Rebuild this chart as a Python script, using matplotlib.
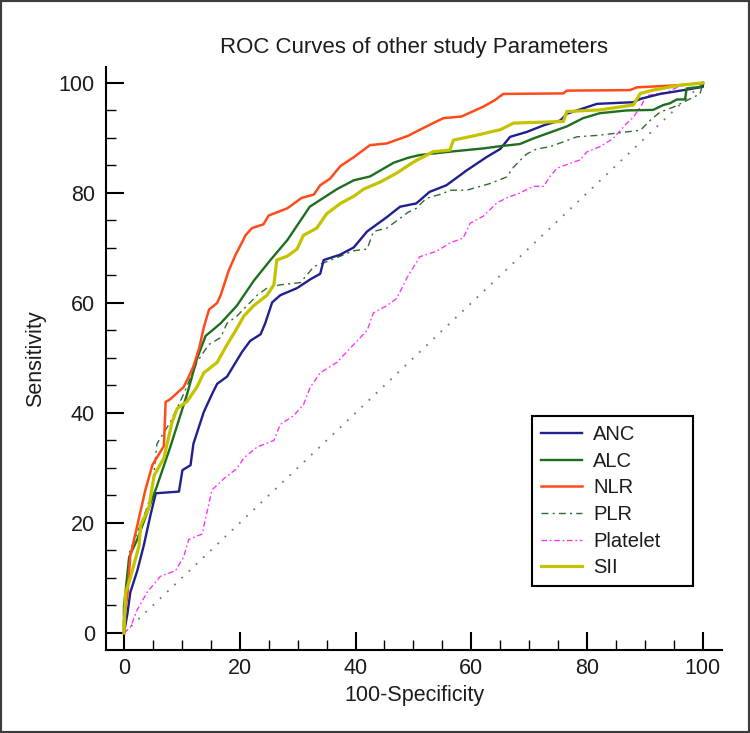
"""
ROC curves of other study parameters (ANC, ALC, NLR, PLR, Platelet, SII).

Output:
    out.png
"""

import matplotlib
matplotlib.use("Agg")
import matplotlib.pyplot as plt
from matplotlib.lines import Line2D
from matplotlib.patches import Rectangle
from matplotlib.ticker import MultipleLocator

# ---------------------------------------------------------------------------
# Data (100-Specificity vs Sensitivity, %)
# ---------------------------------------------------------------------------
anc_x = [0, 0.6, 1.1, 2.3, 3.4, 4.6, 5.5, 9.5, 10.1, 11.5, 12.0, 12.9, 13.8, 15.2,
         16.1, 17.8, 19.3, 20.4, 21.8, 23.6, 24.4, 25.6, 27.0, 29.9, 32.2, 33.9,
         34.5, 37.4, 39.7, 42.0, 45.4, 47.7, 50.5, 52.8, 55.7, 59.2, 62.6, 65.0,
         66.7, 69.6, 72.5, 75.4, 76.5, 81.7, 88.0, 89.2, 92.6, 96.7, 100, 100]
anc_y = [0, 3.5, 7.4, 11.3, 15.8, 21.5, 25.4, 25.7, 29.6, 30.5, 34.4, 37.3, 40.2,
         43.4, 45.3, 46.6, 49.2, 51.1, 53.1, 54.3, 56.3, 60.1, 61.4, 62.7, 64.3,
         65.3, 67.8, 68.8, 70.1, 73.0, 75.6, 77.5, 78.1, 80.2, 81.4, 84.1, 86.5,
         88.0, 90.2, 91.1, 92.3, 93.2, 94.4, 96.2, 96.5, 97.1, 98.0, 98.7, 99.3, 100]

alc_x = [0, 0, 0.9, 2.3, 3.7, 5.7, 8.0, 10.9, 12.6, 14.1, 16.7, 19.5, 22.4, 25.3,
         28.2, 32.1, 36.8, 39.7, 42.5, 46.6, 49.1, 51.1, 56.3, 62.1, 65.0, 68.4,
         70.7, 73.6, 76.5, 79.3, 82.2, 86.8, 91.4, 93.2, 94.3, 95.5, 96.9, 97.2,
         99.7, 100]
alc_y = [0, 4.8, 13.8, 17.0, 21.0, 26.7, 33.8, 43.4, 49.8, 54.0, 56.3, 59.5, 64.0,
         67.8, 71.4, 77.5, 80.7, 82.3, 83.0, 85.5, 86.4, 86.9, 87.5, 88.1, 88.5,
         88.9, 89.9, 91.0, 92.1, 93.6, 94.5, 95.0, 95.1, 96.0, 96.3, 97.0, 97.0,
         99.0, 99.3, 100]

nlr_x = [0, 0, 0.6, 1.1, 3.7, 4.9, 6.9, 7.2, 8.0, 10.3, 11.2, 12.0, 13.0, 13.8,
         14.7, 16.1, 16.7, 18.1, 19.3, 20.1, 21.0, 22.1, 24.1, 25.0, 28.2, 30.7,
         32.8, 33.9, 35.6, 37.4, 39.7, 42.5, 45.4, 49.1, 50.0, 53.4, 55.2, 58.3,
         62.1, 64.1, 65.5, 75.9, 76.5, 87.4, 88.6, 96.1, 100]
nlr_y = [0, 2.0, 7.0, 14.0, 26.0, 30.5, 34.0, 42.0, 42.5, 44.7, 46.6, 48.5, 51.8,
         55.6, 58.8, 60.0, 61.4, 65.9, 68.8, 70.4, 72.3, 73.6, 74.3, 75.9, 77.2,
         79.1, 79.7, 81.4, 82.6, 84.9, 86.5, 88.7, 89.0, 90.4, 90.9, 92.7, 93.6,
         93.9, 95.7, 96.9, 98.0, 98.1, 98.6, 98.7, 99.2, 99.6, 100]

plr_x = [0, 0.9, 4.0, 4.9, 5.7, 8.0, 10.3, 12.6, 14.6, 16.7, 17.8, 19.5, 23.0,
         24.7, 27.0, 30.5, 32.8, 35.0, 39.7, 42.0, 43.1, 45.4, 49.1, 50.5, 52.2,
         55.1, 56.3, 59.2, 63.2, 66.1, 67.3, 68.4, 69.6, 71.3, 73.6, 75.9, 78.2,
         82.2, 86.8, 89.2, 90.9, 92.6, 94.9, 97.2, 99.5, 100]
plr_y = [0, 14.5, 22.8, 26.0, 34.4, 38.3, 43.4, 49.2, 52.4, 53.7, 56.3, 57.6, 61.4,
         62.7, 63.3, 63.7, 66.6, 67.5, 69.5, 69.8, 73.0, 73.6, 76.5, 77.2, 79.0,
         79.9, 80.5, 80.5, 81.7, 82.9, 84.7, 85.9, 87.1, 88.0, 88.4, 89.3, 90.2,
         90.5, 91.1, 91.4, 93.2, 94.7, 95.6, 96.8, 98.0, 100]

plt_x = [0, 1.1, 2.3, 4.0, 6.3, 8.9, 10.3, 11.2, 13.5, 14.4, 15.2, 17.2, 19.5,
         20.7, 23.0, 25.9, 27.0, 29.3, 31.0, 32.2, 33.9, 36.8, 39.1, 42.0, 43.1,
         45.4, 47.1, 48.9, 51.1, 54.0, 56.3, 58.6, 59.8, 62.1, 64.4, 66.1, 68.4,
         70.7, 72.5, 73.6, 74.8, 77.1, 78.8, 80.0, 82.2, 84.5, 86.8, 88.0, 89.2,
         90.3, 93.8, 96.7, 100]
plt_y = [0, 1.0, 4.2, 7.4, 10.3, 11.3, 13.8, 17.0, 18.0, 22.2, 26.0, 28.0, 29.9,
         31.8, 33.8, 35.0, 37.9, 39.5, 41.5, 44.7, 47.3, 49.2, 51.8, 55.0, 58.2,
         59.5, 60.8, 64.6, 68.4, 69.4, 70.9, 71.8, 74.5, 75.8, 78.2, 79.1, 80.0,
         81.2, 81.2, 83.0, 84.5, 85.4, 86.0, 87.5, 88.4, 89.9, 92.6, 93.8, 95.6,
         97.7, 98.3, 99.8, 100]

sii_x = [0, 0.3, 1.1, 2.6, 2.9, 4.3, 5.2, 6.9, 8.3, 9.2, 10.9, 12.6, 13.8, 16.1,
         17.8, 19.3, 20.7, 22.4, 24.7, 25.9, 26.4, 28.2, 29.9, 31.0, 33.3, 35.0,
         37.4, 39.7, 41.4, 44.3, 47.1, 49.4, 50.5, 53.4, 56.3, 56.9, 60.9, 65.0,
         67.3, 75.9, 76.5, 82.2, 88.0, 89.2, 91.4, 96.1, 100]
sii_y = [0, 7.4, 10.0, 15.8, 19.6, 22.8, 28.6, 31.8, 38.3, 40.8, 42.1, 44.7, 47.3,
         49.2, 52.4, 55.0, 57.6, 59.5, 61.4, 63.3, 67.8, 68.5, 69.8, 72.3, 73.6,
         76.2, 78.1, 79.4, 80.7, 82.0, 83.6, 85.2, 85.9, 87.5, 87.8, 89.6, 90.5,
         91.5, 92.7, 93.0, 94.8, 95.1, 96.0, 98.1, 98.7, 99.6, 100]

diag = [0, 100]

labels = ["ANC", "ALC", "NLR", "PLR", "Platelet", "SII"]

# ---------------------------------------------------------------------------
# Styling
# ---------------------------------------------------------------------------
plt.rcParams["font.family"] = ["Liberation Sans", "DejaVu Sans"]
TXT = "#1c1c1c"

C_ANC = "#1f1f8f"
C_ALC = "#1e6e1e"
C_NLR = "#ff4a1a"
C_PLR = "#2f6a2f"
C_PLT = "#ff33ff"
C_SII = "#c3c300"
C_DIAG = "#8a6e6e"

LS_PLR = (0, (5, 3, 1.5, 3))
LS_PLT = (0, (4, 2, 1.2, 2))

# ---------------------------------------------------------------------------
# Figure
# ---------------------------------------------------------------------------
W, H = 750, 733
fig = plt.figure(figsize=(W / 100, H / 100), dpi=100)
ax = fig.add_axes([106 / W, 1 - 650 / H, 616 / W, 583 / H])

ax.plot(diag, diag, color=C_DIAG, lw=1.3, ls=(0, (1, 4.5)))
ax.plot(plt_x, plt_y, color=C_PLT, lw=1.0, ls=LS_PLT)
ax.plot(plr_x, plr_y, color=C_PLR, lw=1.0, ls=LS_PLR)
ax.plot(anc_x, anc_y, color=C_ANC, lw=1.7)
ax.plot(alc_x, alc_y, color=C_ALC, lw=1.7)
ax.plot(nlr_x, nlr_y, color=C_NLR, lw=1.8)
ax.plot(sii_x, sii_y, color=C_SII, lw=2.3)

ax.set_xlim(-3.1, 103.3)
ax.set_ylim(-3.1, 102.9)

for side in ["top", "right"]:
    ax.spines[side].set_visible(False)
for side in ["left", "bottom"]:
    ax.spines[side].set_linewidth(1.5)
    ax.spines[side].set_color("black")

ax.set_xticks(range(0, 101, 20))
ax.set_yticks(range(0, 101, 20))
ax.xaxis.set_minor_locator(MultipleLocator(5))
ax.yaxis.set_minor_locator(MultipleLocator(5))
ax.tick_params(which="major", direction="in", length=12.8, width=1.5,
               labelsize=15.5, labelcolor=TXT, color="black")
ax.tick_params(axis="x", which="major", pad=6)
ax.tick_params(axis="y", which="major", pad=8)
ax.tick_params(which="minor", direction="in", length=7.5, width=1.0, color="black")

ax.set_title("ROC Curves of other study Parameters", fontsize=16, color=TXT, pad=10)
ax.set_xlabel("100-Specificity", fontsize=15.5, color=TXT, labelpad=4)
ax.set_ylabel("Sensitivity", fontsize=15.5, color=TXT, labelpad=9.5)

# legend
handles = [
    Line2D([], [], color=C_ANC, lw=1.7),
    Line2D([], [], color=C_ALC, lw=1.7),
    Line2D([], [], color=C_NLR, lw=1.8),
    Line2D([], [], color=C_PLR, lw=1.0, ls=LS_PLR),
    Line2D([], [], color=C_PLT, lw=1.0, ls=LS_PLT),
    Line2D([], [], color=C_SII, lw=2.3),
]
x0 = (532 - 106) / 616
x1 = (693 - 106) / 616
y1 = (650 - 416) / 583
y0 = (650 - 588) / 583
leg = ax.legend(handles, labels, loc="upper left",
                bbox_to_anchor=(x0, y0, x1 - x0, y1 - y0), mode="expand",
                borderaxespad=0, fancybox=False, framealpha=1,
                edgecolor="black", fontsize=14.5, handlelength=2.05,
                handletextpad=0.55, labelspacing=0.38, borderpad=0.45)
leg.get_frame().set_linewidth(1.5)
for t in leg.get_texts():
    t.set_color(TXT)

# outer frame around the picture
fig.add_artist(Rectangle((0, 0), 1, 1, transform=fig.transFigure, fill=False,
                         edgecolor="#3c3c3c", linewidth=3))

fig.savefig("out.png", dpi=100)
